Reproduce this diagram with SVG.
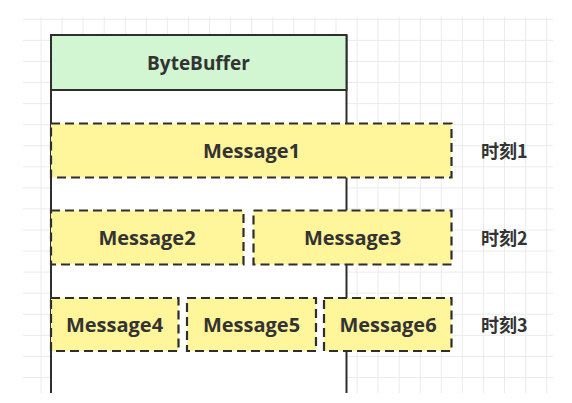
<svg xmlns="http://www.w3.org/2000/svg" width="572" height="403" viewBox="0 0 572 403">
<style>
.grid{stroke:#ebebeb;stroke-width:1;fill:none}
.hdr{fill:#d1f6d1;stroke:#2e2e2e;stroke-width:2}
.msg{fill:#fff59a;stroke:#2e2e2e;stroke-width:2.2;stroke-dasharray:9 5}
.side{stroke:#2e2e2e;stroke-width:2;fill:none}
.t{font-family:"Open Sans","Noto Sans",sans-serif;font-weight:700;font-size:19px;fill:#333;text-anchor:middle}
.m{font-size:20px}
.lbl{font-family:"Noto Sans CJK SC","Open Sans",sans-serif;font-weight:700;font-size:18px;fill:#333}
</style>
<rect width="572" height="403" fill="#ffffff"/>
<path class="grid" d="M23 19.3H553M23 40.4H553M23 61.4H553M23 82.5H553M23 103.6H553M23 124.7H553M23 145.7H553M23 166.8H553M23 187.9H553M23 208.9H553M23 230H553M23 251.1H553M23 272.1H553M23 293.2H553M23 314.3H553M23 335.4H553M23 356.4H553M23 377.5H553M41 17V393M62.1 17V393M83.1 17V393M104.2 17V393M125.3 17V393M146.4 17V393M167.4 17V393M188.5 17V393M209.6 17V393M230.6 17V393M251.7 17V393M272.8 17V393M293.8 17V393M314.9 17V393M336 17V393M357.1 17V393M378.1 17V393M399.2 17V393M420.3 17V393M441.3 17V393M462.4 17V393M483.5 17V393M504.5 17V393M525.6 17V393M546.7 17V393"/>
<g id="bytebuffer">
<rect x="51" y="90" width="295.5" height="303" fill="#ffffff"/>
<path class="side" d="M51 35V393M346.5 35V393"/>
<rect class="hdr" x="51" y="35" width="295.5" height="55"/>
<text class="t" x="198.5" y="70">ByteBuffer</text>
</g>
<g id="message1">
<rect class="msg" x="51" y="123.5" width="400.5" height="54"/>
<text class="t m" x="251.5" y="158">Message1</text>
</g>
<g id="message2">
<rect class="msg" x="51" y="210.5" width="192.5" height="54"/>
<text class="t m" x="147" y="245">Message2</text>
</g>
<g id="message3">
<rect class="msg" x="253.5" y="210.5" width="198" height="54"/>
<text class="t m" x="352.5" y="245">Message3</text>
</g>
<g id="message4">
<rect class="msg" x="51" y="298" width="127.5" height="53"/>
<text class="t m" x="114.5" y="332">Message4</text>
</g>
<g id="message5">
<rect class="msg" x="187" y="298" width="129" height="53"/>
<text class="t m" x="251.5" y="332">Message5</text>
</g>
<g id="message6">
<rect class="msg" x="324" y="298" width="127.5" height="53"/>
<text class="t m" x="388" y="332">Message6</text>
</g>
<g id="labels">
<text class="lbl" x="481" y="158">时刻1</text>
<text class="lbl" x="481" y="245">时刻2</text>
<text class="lbl" x="481" y="332">时刻3</text>
</g>
<g id="connectors"></g>
</svg>
